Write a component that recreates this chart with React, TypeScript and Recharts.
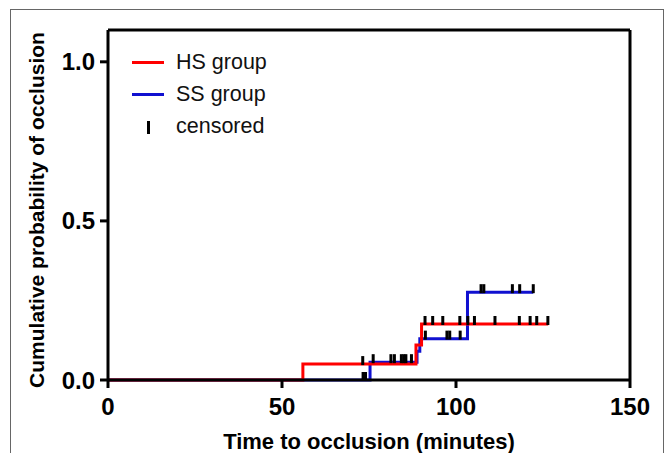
import React from "react";
import {
  ComposedChart,
  Line,
  Scatter,
  XAxis,
  YAxis,
  ReferenceLine,
} from "recharts";

// step points (time in minutes, cumulative probability)
const hsTimes = [0, 56, 88.5, 90.1, 126.5];
const hsProb = [0, 0.05, 0.11, 0.176, 0.176];
const ssTimes = [0, 75.3, 88.8, 89.6, 103.3, 122.2];
const ssProb = [0, 0.056, 0.09, 0.13, 0.276, 0.276];

// censored marks
const censorTimes = [
  91.1, 93.3, 96.2, 101.1, 103.4, 105.3, 111.2, 118.2, 121.3, 123.2, 126.4,
  107.2, 108.0, 116.2, 118.3, 122.2,
  91.2, 97.4, 98.2, 101.2,
  73.2, 76.2, 81.3, 82.3, 84.3, 85.0, 85.6, 87.2,
  73.3, 74.0,
];
const censorProb = [
  0.176, 0.176, 0.176, 0.176, 0.176, 0.176, 0.176, 0.176, 0.176, 0.176, 0.176,
  0.276, 0.276, 0.276, 0.276, 0.276,
  0.13, 0.13, 0.13, 0.13,
  0.05, 0.056, 0.056, 0.056, 0.056, 0.056, 0.056, 0.056,
  0, 0,
];

const xTicks = [0, 50, 100, 150];
const yTicks = [0, 0.5, 1.0];

const legendItems = [
  { name: "HS group", color: "#ff0000" },
  { name: "SS group", color: "#1010d0" },
];

const hsData = hsTimes.map((t, i) => ({ t, p: hsProb[i] }));
const ssData = ssTimes.map((t, i) => ({ t, p: ssProb[i] }));
const censorData = censorTimes.map((t, i) => ({ t, p: censorProb[i] }));

const FONT = "'Liberation Sans', Arial, sans-serif";
const axisStyle = { stroke: "#000", strokeWidth: 3 };

const CensorMark = (props: any) => (
  <rect x={props.cx - 1.5} y={props.cy - 8} width={3} height={9} fill="#000" />
);

export default function App() {
  return (
    <div style={{ position: "absolute", left: 0, top: 0, width: 666, height: 453, background: "#fff", overflow: "hidden" }}>
      {/* thin figure frame */}
      <div
        style={{
          position: "absolute",
          left: 10,
          top: 9,
          width: 652,
          height: 460,
          borderLeft: "1px solid #666",
          borderTop: "1px solid #666",
          borderRight: "1px solid #666",
        }}
      />
      <div style={{ position: "absolute", left: 0, top: 0 }}>
        <ComposedChart
          width={666}
          height={453}
          margin={{ top: 30, right: 36, bottom: 2, left: 8 }}
        >
          <XAxis
            dataKey="t"
            type="number"
            domain={[0, 150]}
            ticks={xTicks}
            height={71}
            axisLine={axisStyle}
            tickLine={axisStyle}
            tickSize={8}
            tickMargin={10}
            tick={{ fill: "#000", fontSize: 24, fontWeight: "bold", fontFamily: FONT }}
            label={{
              value: "Time to occlusion (minutes)",
              position: "insideBottom",
              offset: 2,
              style: { fill: "#000", fontSize: 22, fontWeight: "bold", fontFamily: FONT },
            }}
          />
          <YAxis
            type="number"
            domain={[0, 1.1]}
            ticks={yTicks}
            width={100}
            axisLine={axisStyle}
            tickLine={axisStyle}
            tickSize={8}
            tickMargin={5}
            tickFormatter={(v: number) => v.toFixed(1)}
            tick={{ fill: "#000", fontSize: 24, fontWeight: "bold", fontFamily: FONT }}
            label={{
              value: "Cumulative probability of occlusion",
              angle: -90,
              position: "center",
              dx: -21,
              dy: 5,
              style: { fill: "#000", fontSize: 21, fontWeight: "bold", fontFamily: FONT, textAnchor: "middle" },
            }}
          />
          <ReferenceLine y={1.1} stroke="#000" strokeWidth={3} />
          <ReferenceLine x={150} stroke="#000" strokeWidth={3} />
          <Line
            data={ssData}
            dataKey="p"
            type="stepAfter"
            stroke="#1010d0"
            strokeWidth={3}
            dot={false}
            isAnimationActive={false}
          />
          <Line
            data={hsData}
            dataKey="p"
            type="stepAfter"
            stroke="#ff0000"
            strokeWidth={3}
            dot={false}
            isAnimationActive={false}
          />
          <Scatter
            data={censorData}
            dataKey="p"
            shape={CensorMark}
            isAnimationActive={false}
          />
        </ComposedChart>
      </div>
      {/* legend */}
      <div
        style={{
          position: "absolute",
          left: 132,
          top: 46,
          fontFamily: FONT,
          fontSize: 21.5,
          color: "#111",
          lineHeight: "32px",
        }}
      >
        {legendItems.map((item) => (
          <div key={item.name} style={{ display: "flex", alignItems: "center" }}>
            <span style={{ display: "inline-block", width: 32, height: 3, background: item.color, marginRight: 12 }} />
            <span>{item.name}</span>
          </div>
        ))}
        <div style={{ display: "flex", alignItems: "center" }}>
          <span style={{ display: "inline-block", width: 32, marginRight: 12, textAlign: "center" }}>
            <span style={{ display: "inline-block", width: 3, height: 13, background: "#000", verticalAlign: "middle" }} />
          </span>
          <span>censored</span>
        </div>
      </div>
    </div>
  );
}
